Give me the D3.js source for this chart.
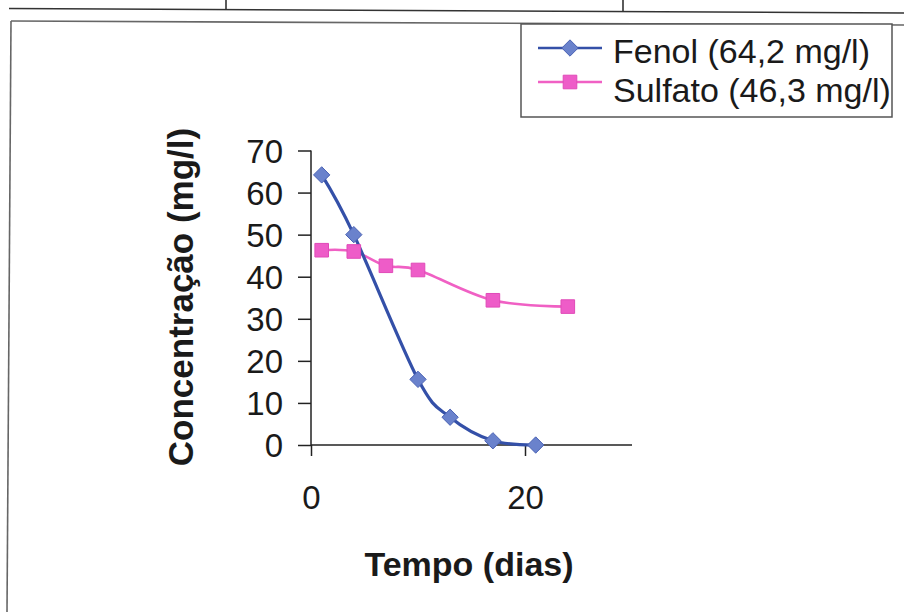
<!DOCTYPE html>
<html>
<head>
<meta charset="utf-8">
<script src="https://cdn.jsdelivr.net/npm/d3@7"></script>
<style>
  html, body { margin: 0; padding: 0; background: #fff; }
  svg { display: block; font-family: "Liberation Sans", Arial, sans-serif; }
</style>
</head>
<body>
<svg id="chart" width="904" height="612"></svg>
<script>
// ---- data ----
const fenolDays   = [1, 4, 10, 13, 17, 21];
const fenolValues = [64.2, 50, 15.6, 6.6, 1.0, 0];
const sulfatoDays   = [1, 4, 7, 10, 17, 24];
const sulfatoValues = [46.3, 46, 42.6, 41.6, 34.4, 32.9];
const seriesNames = ["Fenol (64,2 mg/l)", "Sulfato (46,3 mg/l)"];
const xTicks = [0, 20];
const yTicks = [0, 10, 20, 30, 40, 50, 60, 70];
const xTitle = "Tempo (dias)";
const yTitle = "Concentração (mg/l)";

const svg = d3.select("#chart");

// ---- page decoration (scanned table/frame) ----
const deco = svg.append("g").attr("stroke", "#333").attr("stroke-width", 1.6).attr("fill", "none");
deco.append("line").attr("x1", 9).attr("y1", 8.5).attr("x2", 904).attr("y2", 13);
deco.append("line").attr("x1", 226).attr("y1", 0).attr("x2", 226).attr("y2", 9.5);
deco.append("line").attr("x1", 623).attr("y1", 0).attr("x2", 623).attr("y2", 11.5);
const frame = svg.append("g").attr("stroke", "#666").attr("stroke-width", 1.6).attr("fill", "none");
frame.append("line").attr("x1", 11).attr("y1", 21).attr("x2", 904).attr("y2", 25);
frame.append("line").attr("x1", 11).attr("y1", 21).attr("x2", 7).attr("y2", 612);

// ---- scales ----
const x = d3.scaleLinear().domain([0, 30]).range([311, 632]);
const y = d3.scaleLinear().domain([0, 70]).range([445, 150.5]);

// ---- axes ----
const axisColor = "#222";
const yAxis = svg.append("g").attr("transform", `translate(${x(0)},0)`)
  .call(d3.axisLeft(y).tickValues(yTicks).tickSize(13).tickPadding(15).tickFormat(d3.format("d")));
const xAxis = svg.append("g").attr("transform", `translate(0,${y(0)})`)
  .call(d3.axisBottom(x).tickValues(xTicks).tickSize(11).tickSizeOuter(0).tickPadding(30).tickFormat(d3.format("d")));
[yAxis, xAxis].forEach(a => {
  a.select(".domain").attr("stroke", axisColor).attr("stroke-width", 1.5);
  a.selectAll(".tick line").attr("stroke", axisColor).attr("stroke-width", 1.5);
  a.selectAll(".tick text").attr("fill", "#1a1a1a").attr("font-size", 33)
    .attr("font-family", "'Liberation Sans', Arial, sans-serif");
});
yAxis.select(".domain").attr("d", `M0,${y(70)}V${y(0)}`);
xAxis.select(".domain").attr("d", `M${x(0)},0H${x(30)}`);
yAxis.selectAll(".tick text").attr("dy", "0.36em");
xAxis.selectAll(".tick text").attr("dy", "0.71em");

// ---- axis titles ----
svg.append("text")
  .attr("transform", `translate(193,297) rotate(-90)`)
  .attr("text-anchor", "middle")
  .attr("font-size", 35).attr("font-weight", "bold").attr("fill", "#1a1a1a")
  .text(yTitle);
svg.append("text")
  .attr("x", 469).attr("y", 576)
  .attr("text-anchor", "middle")
  .attr("font-size", 34).attr("font-weight", "bold").attr("fill", "#1a1a1a")
  .text(xTitle);

// ---- series ----
const fenol = fenolDays.map((d, i) => [d, fenolValues[i]]);
const sulfato = sulfatoDays.map((d, i) => [d, sulfatoValues[i]]);
const line = d3.line().x(d => x(d[0])).y(d => y(d[1])).curve(d3.curveCatmullRom.alpha(0));

const fenolLine = "#3450a8", fenolFill = "#6a82cc", fenolStroke = "#4a62b4";
const sulfLine = "#f060c4", sulfFill = "#ee5cc8", sulfStroke = "#e04ab8";

svg.append("path").datum(sulfato).attr("d", line)
  .attr("fill", "none").attr("stroke", sulfLine).attr("stroke-width", 2.6);
svg.append("path").datum(fenol).attr("d", line)
  .attr("fill", "none").attr("stroke", fenolLine).attr("stroke-width", 3.2);

const diamond = d3.symbol().type(d3.symbolDiamond2).size(170);
const square = d3.symbol().type(d3.symbolSquare).size(185);

svg.append("g").selectAll("path").data(sulfato).join("path")
  .attr("transform", d => `translate(${x(d[0])},${y(d[1])})`)
  .attr("d", square).attr("fill", sulfFill).attr("stroke", sulfStroke).attr("stroke-width", 1);
svg.append("g").selectAll("path").data(fenol).join("path")
  .attr("transform", d => `translate(${x(d[0])},${y(d[1])})`)
  .attr("d", diamond).attr("fill", fenolFill).attr("stroke", fenolStroke).attr("stroke-width", 1);

// ---- legend ----
const lg = svg.append("g");
lg.append("rect").attr("x", 521).attr("y", 24).attr("width", 371).attr("height", 93)
  .attr("fill", "#fff").attr("stroke", "#555").attr("stroke-width", 1.5);
const legendItems = [
  { name: seriesNames[0], lineC: fenolLine, fill: fenolFill, stroke: fenolStroke, sym: diamond, ly: 48, ty: 63 },
  { name: seriesNames[1], lineC: sulfLine, fill: sulfFill, stroke: sulfStroke, sym: square, ly: 82, ty: 102 }
];
legendItems.forEach(it => {
  lg.append("line").attr("x1", 538).attr("x2", 602).attr("y1", it.ly).attr("y2", it.ly)
    .attr("stroke", it.lineC).attr("stroke-width", 2.4);
  lg.append("path").attr("transform", `translate(570,${it.ly})`).attr("d", it.sym)
    .attr("fill", it.fill).attr("stroke", it.stroke).attr("stroke-width", 1);
  lg.append("text").attr("x", 613).attr("y", it.ty).attr("font-size", 34).attr("fill", "#1a1a1a")
    .text(it.name);
});
</script>
</body>
</html>
